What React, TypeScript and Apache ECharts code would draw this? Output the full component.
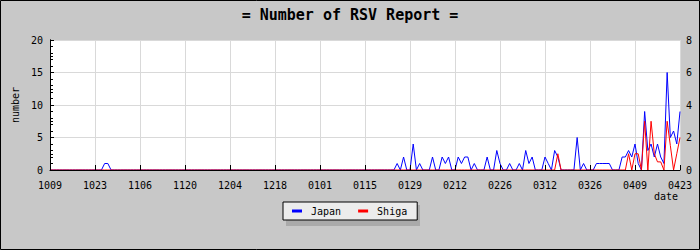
import React, { useEffect, useRef } from "react";
import * as echarts from "echarts";

// Tick labels every 14 days, from Oct 9 to Apr 23
const xTickLabels = [
  "1009", "1023", "1106", "1120", "1204", "1218", "0101", "0115",
  "0129", "0212", "0226", "0312", "0326", "0409", "0423",
];

// Daily report counts, Japan (left axis), day 0 = Oct 9, day 196 = Apr 23
const japan = [
  0, 0, 0, 0, 0, 0, 0, 0, 0, 0, 0, 0, 0, 0, 0, 0, 0, 1, 1, 0,
  0, 0, 0, 0, 0, 0, 0, 0, 0, 0, 0, 0, 0, 0, 0, 0, 0, 0, 0, 0,
  0, 0, 0, 0, 0, 0, 0, 0, 0, 0, 0, 0, 0, 0, 0, 0, 0, 0, 0, 0,
  0, 0, 0, 0, 0, 0, 0, 0, 0, 0, 0, 0, 0, 0, 0, 0, 0, 0, 0, 0,
  0, 0, 0, 0, 0, 0, 0, 0, 0, 0, 0, 0, 0, 0, 0, 0, 0, 0, 0, 0,
  0, 0, 0, 0, 0, 0, 0, 0, 1, 0, 2, 0, 0, 4, 0, 1, 0, 0, 0, 2,
  0, 0, 2, 1, 2, 0, 0, 2, 1, 2, 2, 0, 1, 0, 0, 0, 2, 0, 0, 3,
  1, 0, 0, 1, 0, 0, 1, 0, 3, 1, 2, 0, 0, 0, 2, 1, 0, 3, 2, 0,
  0, 0, 0, 0, 5, 0, 1, 0, 0, 0, 1, 1, 1, 1, 1, 0, 0, 0, 2, 2,
  3, 2, 4, 1, 0, 9, 3, 4, 2, 4, 2, 1, 15, 5, 6, 4, 9,
];

// Daily report counts, Shiga (right axis)
const shiga = [
  0, 0, 0, 0, 0, 0, 0, 0, 0, 0, 0, 0, 0, 0, 0, 0, 0, 0, 0, 0,
  0, 0, 0, 0, 0, 0, 0, 0, 0, 0, 0, 0, 0, 0, 0, 0, 0, 0, 0, 0,
  0, 0, 0, 0, 0, 0, 0, 0, 0, 0, 0, 0, 0, 0, 0, 0, 0, 0, 0, 0,
  0, 0, 0, 0, 0, 0, 0, 0, 0, 0, 0, 0, 0, 0, 0, 0, 0, 0, 0, 0,
  0, 0, 0, 0, 0, 0, 0, 0, 0, 0, 0, 0, 0, 0, 0, 0, 0, 0, 0, 0,
  0, 0, 0, 0, 0, 0, 0, 0, 0, 0, 0, 0, 0, 0, 0, 0, 0, 0, 0, 0,
  0, 0, 0, 0, 0, 0, 0, 0, 0, 0, 0, 0, 0, 0, 0, 0, 0, 0, 0, 0,
  0, 0, 0, 0, 0, 0, 0, 0, 0, 0, 0, 0, 0, 0, 0, 0, 0, 0, 1, 0,
  0, 0, 0, 0, 0, 0, 0, 0, 0, 0, 0, 0, 0, 0, 0, 0, 0, 0, 0, 0,
  1, 0, 1, 1, 0, 3, 0, 3, 1, 0.5, 0.5, 0, 3, 1.5, 0, 1, 2,
];

const FONT = "DejaVu Sans Mono";

export default function App() {
  const ref = useRef<HTMLDivElement>(null);

  useEffect(() => {
    if (!ref.current) return;
    const chart = echarts.init(ref.current, null, { renderer: "svg" });
    const lastDay = japan.length - 1;
    chart.setOption({
      animation: false,
      backgroundColor: "#c8c8c8",
      textStyle: { fontFamily: FONT, color: "#000" },
      title: {
        text: "= Number of RSV Report =",
        left: "center",
        top: 7,
        padding: 0,
        textStyle: { fontFamily: FONT, fontSize: 15, fontWeight: "bold", color: "#000" },
      },
      grid: {
        left: 50,
        right: 20,
        top: 40,
        bottom: 80,
        show: true,
        backgroundColor: "#ffffff",
        borderWidth: 0,
      },
      legend: {
        data: ["Japan", "Shiga"],
        left: 283,
        top: 202,
        orient: "horizontal",
        icon: "rect",
        itemWidth: 10,
        itemHeight: 3,
        itemGap: 17,
        padding: [4, 10, 4, 9],
        backgroundColor: "#ececec",
        borderColor: "#000",
        borderWidth: 1,
        borderRadius: 0,
        textStyle: { fontFamily: FONT, fontSize: 10, color: "#000", padding: [0, 0, 0, 4] },
      },
      graphic: [
        {
          type: "rect",
          z: 1,
          shape: { x: 286, y: 205, width: 134, height: 21 },
          style: { fill: "#aaaaaa" },
        },
        {
          type: "text",
          z: 5,
          x: 678,
          y: 196,
          style: {
            text: "date",
            fontFamily: FONT,
            fontSize: 10,
            fill: "#000",
            align: "right",
            verticalAlign: "middle",
          },
        },
        {
          type: "rect",
          z: 20,
          shape: { x: 0.5, y: 0.5, width: 699, height: 249 },
          style: { fill: "none", stroke: "#000", lineWidth: 1 },
        },
      ],
      xAxis: [
        {
          type: "value",
          gridIndex: 0,
          position: "bottom",
          min: 0,
          max: lastDay,
          interval: 14,
          axisLine: { show: false },
          axisTick: { show: false },
          axisLabel: { show: false },
          splitLine: { show: true, lineStyle: { color: "#d9d9d9", width: 1 } },
        },
        {
          type: "value",
          gridIndex: 0,
          position: "bottom",
          min: 0,
          max: lastDay,
          interval: 14,
          z: 10,
          axisLine: { show: true, onZero: false, lineStyle: { color: "#000", width: 1 } },
          axisTick: { show: true, inside: true, length: 5, lineStyle: { color: "#000" } },
          axisLabel: {
            show: true,
            margin: 10,
            fontFamily: FONT,
            fontSize: 10,
            color: "#000",
            formatter: (v: number) => xTickLabels[Math.round(v / 14)] ?? "",
          },
          splitLine: { show: false },
        },
      ],
      yAxis: [
        {
          type: "value",
          position: "left",
          min: 0,
          max: 20,
          interval: 5,
          name: "number",
          nameLocation: "middle",
          nameGap: 24,
          nameRotate: 90,
          nameTextStyle: { fontFamily: FONT, fontSize: 10, color: "#000" },
          axisLine: { show: true, lineStyle: { color: "#000", width: 1 } },
          axisTick: { show: true, inside: true, length: 4, lineStyle: { color: "#000" } },
          minorTick: { show: true, splitNumber: 5, length: 3, lineStyle: { color: "#000" } },
          axisLabel: { margin: 7, fontFamily: FONT, fontSize: 10, color: "#000" },
          splitLine: { show: true, lineStyle: { color: "#d9d9d9", width: 1 } },
        },
        {
          type: "value",
          position: "right",
          min: 0,
          max: 8,
          interval: 2,
          axisLine: { show: true, lineStyle: { color: "#000", width: 1 } },
          axisTick: { show: true, inside: false, length: 3, lineStyle: { color: "#000" } },
          minorTick: { show: true, splitNumber: 2, length: 3, lineStyle: { color: "#000" } },
          axisLabel: { margin: 6, fontFamily: FONT, fontSize: 10, color: "#000" },
          splitLine: { show: false },
        },
      ],
      series: [
        {
          name: "Japan",
          type: "line",
          xAxisIndex: 0,
          yAxisIndex: 0,
          data: japan.map((v, i) => [i, v]),
          showSymbol: false,
          symbol: "none",
          color: "#0000ff",
          lineStyle: { color: "#0000ff", width: 1 },
          z: 2,
        },
        {
          name: "Shiga",
          type: "line",
          xAxisIndex: 0,
          yAxisIndex: 1,
          data: shiga.map((v, i) => [i, v]),
          showSymbol: false,
          symbol: "none",
          color: "#ff0000",
          lineStyle: { color: "#ff0000", width: 1 },
          z: 3,
        },
      ],
    });
    return () => chart.dispose();
  }, []);

  return (
    <div
      ref={ref}
      style={{ position: "absolute", left: 0, top: 0, width: 700, height: 250 }}
    />
  );
}
